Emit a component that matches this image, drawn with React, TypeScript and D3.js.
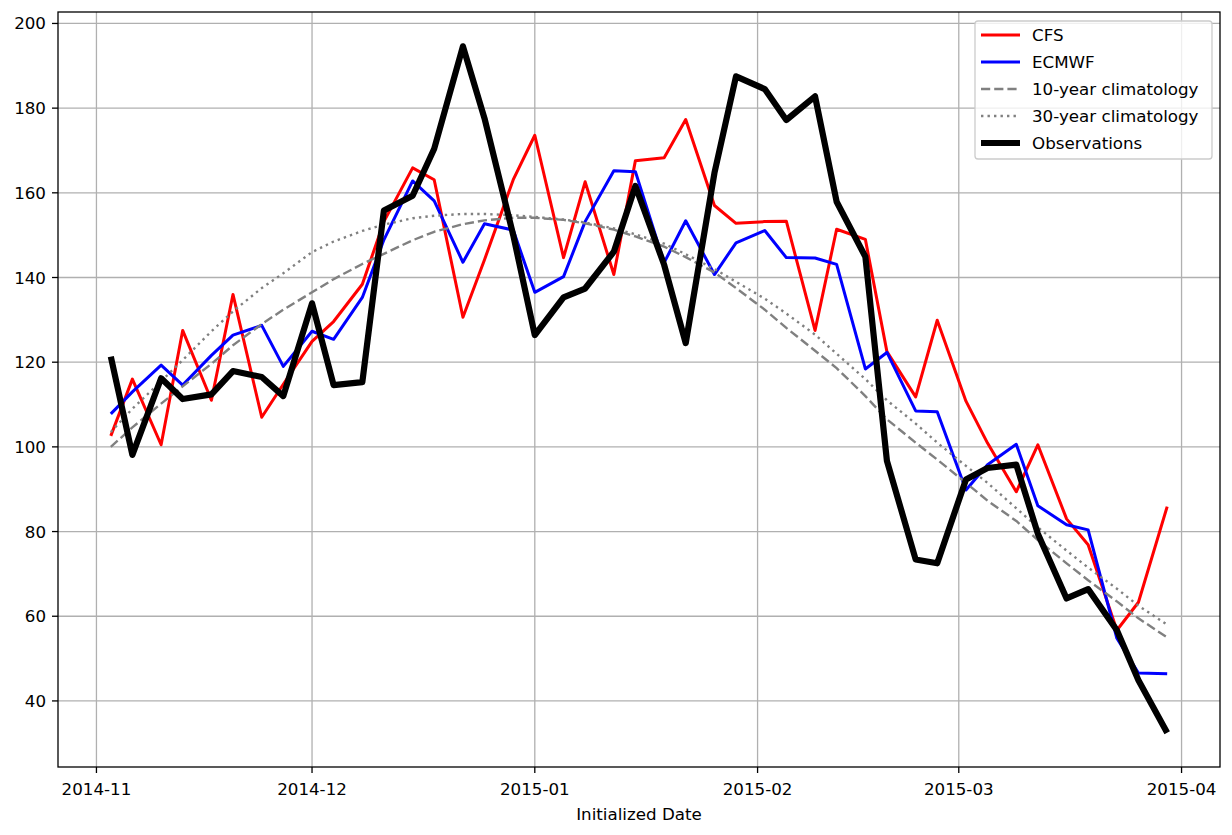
import React from "react";
import * as d3 from "d3";

const dates: string[] = [
  "2014-11-03","2014-11-06","2014-11-10","2014-11-13","2014-11-17","2014-11-20","2014-11-24","2014-11-27",
  "2014-12-01","2014-12-04","2014-12-08","2014-12-11","2014-12-15","2014-12-18","2014-12-22","2014-12-25","2014-12-29",
  "2015-01-01","2015-01-05","2015-01-08","2015-01-12","2015-01-15","2015-01-19","2015-01-22","2015-01-26","2015-01-29",
  "2015-02-02","2015-02-05","2015-02-09","2015-02-12","2015-02-16","2015-02-19","2015-02-23","2015-02-26",
  "2015-03-02","2015-03-05","2015-03-09","2015-03-12","2015-03-16","2015-03-19","2015-03-23","2015-03-26","2015-03-30",
];

const cfs: number[] = [
  102.6, 116, 100.5, 127.5, 111, 136, 107, 114.8,
  124.9, 129.6, 138.4, 153.2, 165.9, 163.1, 130.6, 144.2, 163.1,
  173.6, 144.7, 162.6, 140.7, 167.6, 168.3, 177.3, 157, 152.8,
  153.2, 153.3, 127.5, 151.4, 149, 122.5, 111.8, 129.9,
  110.8, 100.9, 89.4, 100.5, 83, 76.9, 56.7, 63.3, 85.9,
];

const ecmwf: number[] = [
  107.8, 113, 119.3, 114.6, 121.6, 126.4, 128.7, 119,
  127.3, 125.4, 135.3, 148.9, 162.8, 158.1, 143.6, 152.7, 151.2,
  136.5, 140.2, 153.2, 165.2, 165, 143.5, 153.4, 140.7, 148.2,
  151.1, 144.7, 144.6, 143.1, 118.4, 122.3, 108.5, 108.3,
  89.8, 95.8, 100.6, 86.1, 81.6, 80.4, 54.8, 46.6, 46.4,
];

const clim10: number[] = [
  100, 104.6, 110.2, 114.3, 119.6, 124, 129, 132.4,
  136.5, 139.6, 143.2, 145.6, 148.8, 150.8, 152.6, 153.5, 154.1,
  154.1, 153.6, 152.8, 151.3, 149.7, 147.3, 144.8, 141.2, 137.5,
  132.4, 128.1, 122.7, 118.6, 112, 106.5, 101, 97,
  91.5, 87.3, 82.5, 78, 72.5, 68.5, 63.5, 59.5, 55,
];

const clim30: number[] = [
  103.5, 109, 115.5, 120.5, 127.3, 132, 137.5, 141,
  146, 148.5, 151, 152.5, 154, 154.6, 155, 155, 154.7,
  154.3, 153.7, 153, 151.6, 150.2, 148, 145.5, 142, 139,
  135, 131.5, 126.5, 122, 116, 111, 105.5, 101,
  95.5, 91.5, 85.5, 81, 75.5, 71.5, 66.5, 62.5, 58,
];

const observations: number[] = [
  121.3, 98.1, 116.2, 111.3, 112.4, 117.9, 116.5, 112,
  133.9, 114.6, 115.3, 155.8, 159.3, 170.4, 194.6, 177.6, 150,
  126.4, 135.3, 137.4, 146.1, 161.6, 143, 124.5, 164.7, 187.5,
  184.5, 177.2, 182.8, 157.9, 144.9, 96.7, 73.4, 72.5,
  92.3, 95, 95.8, 79.5, 64.2, 66.4, 56.7, 44.9, 32.5,
];

const xTickLabels: string[] = ["2014-11", "2014-12", "2015-01", "2015-02", "2015-03", "2015-04"];
const yTickValues: number[] = [40, 60, 80, 100, 120, 140, 160, 180, 200];

const W = 1232;
const H = 835;
const M = { left: 58, right: 1220, top: 12, bottom: 767 };
const FONT = "DejaVu Sans, sans-serif";
const FS = 16.7;

export default function App() {
  const parse = d3.timeParse("%Y-%m-%d");
  const parseM = d3.timeParse("%Y-%m");
  const xs = dates.map((d) => parse(d) as Date);
  const t0 = xs[0].getTime();
  const t1 = xs[xs.length - 1].getTime();
  const pad = (t1 - t0) * 0.05;
  const x = d3.scaleTime().domain([new Date(t0 - pad), new Date(t1 + pad)]).range([M.left, M.right]);

  const all = [...cfs, ...ecmwf, ...clim10, ...clim30, ...observations];
  const lo = d3.min(all) as number;
  const hi = d3.max(all) as number;
  const yp = (hi - lo) * 0.05;
  const y = d3.scaleLinear().domain([lo - yp, hi + yp]).range([M.bottom, M.top]);

  const line = (vals: number[]) =>
    d3.line<number>().x((_, i) => x(xs[i])).y((v) => y(v))(vals) as string;

  const series = [
    { name: "CFS", vals: cfs, color: "#ff0000", width: 3.0, dash: undefined as string | undefined },
    { name: "ECMWF", vals: ecmwf, color: "#0000ff", width: 3.0, dash: undefined },
    { name: "10-year climatology", vals: clim10, color: "#808080", width: 2.4, dash: "9.2,4" },
    { name: "30-year climatology", vals: clim30, color: "#808080", width: 2.4, dash: "2.4,4.1" },
    { name: "Observations", vals: observations, color: "#000000", width: 6.2, dash: undefined },
  ];

  const legX = 975;
  const legY = 21;
  const legW = 237;
  const legH = 138;
  const rowH = 27;

  return (
    <svg width={W} height={H} style={{ position: "absolute", left: 0, top: 0, background: "#fff" }}>
      <rect x={0} y={0} width={W} height={H} fill="#fff" />
      <defs>
        <clipPath id="plot">
          <rect x={M.left} y={M.top} width={M.right - M.left} height={M.bottom - M.top} />
        </clipPath>
      </defs>
      {/* grid */}
      {xTickLabels.map((t) => {
        const px = x(parseM(t) as Date);
        return <line key={"gx" + t} x1={px} x2={px} y1={M.top} y2={M.bottom} stroke="#b0b0b0" strokeWidth={1.3} />;
      })}
      {yTickValues.map((v) => (
        <line key={"gy" + v} x1={M.left} x2={M.right} y1={y(v)} y2={y(v)} stroke="#b0b0b0" strokeWidth={1.3} />
      ))}
      {/* series */}
      <g clipPath="url(#plot)">
        {series.map((s) => (
          <path
            key={s.name}
            d={line(s.vals)}
            fill="none"
            stroke={s.color}
            strokeWidth={s.width}
            strokeDasharray={s.dash}
            strokeLinejoin="round"
            strokeLinecap="butt"
          />
        ))}
      </g>
      {/* spines */}
      <rect x={M.left} y={M.top} width={M.right - M.left} height={M.bottom - M.top} fill="none" stroke="#000" strokeWidth={1.3} />
      {/* x ticks */}
      {xTickLabels.map((t) => {
        const px = x(parseM(t) as Date);
        return (
          <g key={"xt" + t}>
            <line x1={px} x2={px} y1={M.bottom} y2={M.bottom + 6} stroke="#000" strokeWidth={1.3} />
            <text x={px} y={795} textAnchor="middle" fontFamily={FONT} fontSize={FS} fill="#000">
              {t}
            </text>
          </g>
        );
      })}
      {/* y ticks */}
      {yTickValues.map((v) => (
        <g key={"yt" + v}>
          <line x1={M.left - 6} x2={M.left} y1={y(v)} y2={y(v)} stroke="#000" strokeWidth={1.3} />
          <text x={M.left - 12} y={y(v) + 6} textAnchor="end" fontFamily={FONT} fontSize={FS} fill="#000">
            {v}
          </text>
        </g>
      ))}
      <text x={(M.left + M.right) / 2} y={820} textAnchor="middle" fontFamily={FONT} fontSize={FS} fill="#000">
        Initialized Date
      </text>
      {/* legend */}
      <rect x={legX} y={legY} width={legW} height={legH} rx={3} fill="#fff" fillOpacity={0.8} stroke="#cccccc" strokeWidth={1.3} />
      {series.map((s, i) => {
        const cy = legY + 14 + i * rowH;
        return (
          <g key={"lg" + s.name}>
            <line x1={legX + 6} x2={legX + 45} y1={cy} y2={cy} stroke={s.color} strokeWidth={s.width} strokeDasharray={s.dash} />
            <text x={legX + 57} y={cy + 6} fontFamily={FONT} fontSize={FS} fill="#000">
              {s.name}
            </text>
          </g>
        );
      })}
    </svg>
  );
}
